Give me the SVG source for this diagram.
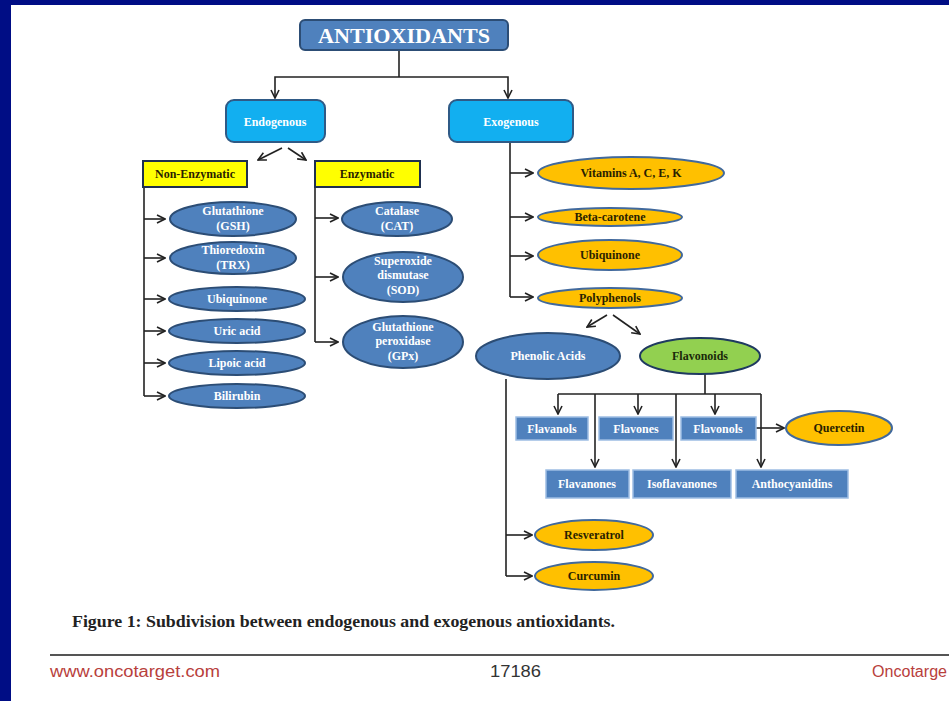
<svg xmlns="http://www.w3.org/2000/svg" width="949" height="701" viewBox="0 0 949 701">
<defs>
<marker id="a" viewBox="0 0 10 10" refX="9" refY="5" markerWidth="10" markerHeight="10" markerUnits="userSpaceOnUse" orient="auto">
<path d="M1,1 L9,5 L1,9" fill="none" stroke="#222" stroke-width="1.6"/>
</marker>
<style>
.t{font-family:"Liberation Serif","Times New Roman",serif;font-weight:bold;text-anchor:middle}
.w{fill:#ffffff;font-size:12px}
.d{fill:#2a1f00;font-size:12px}
.blue{fill:#4f81bd;stroke:#2c4d75;stroke-width:2}
.cyan{fill:#12aff0;stroke:#2f5a86;stroke-width:2}
.yel{fill:#ffff00;stroke:#1f3050;stroke-width:2}
.org{fill:#ffc000;stroke:#41699c;stroke-width:2}
.grn{fill:#92d050;stroke:#1f3a60;stroke-width:2}
.box{fill:#4f81bd;stroke:#9dbde3;stroke-width:1.5}
.c path{fill:none;stroke:#222;stroke-width:1.6}
.ar{marker-end:url(#a)}
</style>
</defs>
<rect x="0" y="0" width="949" height="701" fill="#ffffff"/>
<rect x="0" y="0" width="949" height="5" fill="#000d85"/>
<rect x="0" y="0" width="11" height="701" fill="#000d85"/>

<g class="c" id="connectors">
<path d="M399,50 V77"/>
<path class="ar" d="M399,77 H275 V98"/>
<path class="ar" d="M399,77 H508 V98"/>
<path class="ar" d="M282,148 L258,160"/>
<path class="ar" d="M288,148 L306,160"/>
<path d="M144,187 V396"/>
<path class="ar" d="M144,219 H165"/>
<path class="ar" d="M144,258 H165"/>
<path class="ar" d="M144,299 H165"/>
<path class="ar" d="M144,331 H165"/>
<path class="ar" d="M144,363 H165"/>
<path class="ar" d="M144,396 H165"/>
<path d="M315,187 V342"/>
<path class="ar" d="M315,218 H338"/>
<path class="ar" d="M315,277 H338"/>
<path class="ar" d="M315,342 H338"/>
<path d="M510,142 V297"/>
<path class="ar" d="M510,173 H533"/>
<path class="ar" d="M510,217 H533"/>
<path class="ar" d="M510,256 H533"/>
<path class="ar" d="M510,297 H533"/>
<path class="ar" d="M607,315 L587,327"/>
<path class="ar" d="M613,315 L640,334"/>
<path d="M506,379 V576"/>
<path class="ar" d="M506,535 H532"/>
<path class="ar" d="M506,576 H532"/>
<path d="M705,374 V394"/>
<path d="M558,394 H761"/>
<path class="ar" d="M558,394 V414"/>
<path class="ar" d="M638,394 V414"/>
<path class="ar" d="M715,394 V414"/>
<path class="ar" d="M595,394 V467"/>
<path class="ar" d="M676,394 V467"/>
<path class="ar" d="M761,394 V467"/>
<path class="ar" d="M756,428 H784"/>
</g>

<g id="antioxidants"><rect class="blue" x="300" y="20" width="208" height="30" rx="5"/><text class="t" x="404" y="43" fill="#ffffff" font-size="21" textLength="172" lengthAdjust="spacingAndGlyphs">ANTIOXIDANTS</text></g>
<g id="endogenous"><rect class="cyan" x="226" y="100" width="99" height="42" rx="8"/><text class="t w" x="275" y="126">Endogenous</text></g>
<g id="exogenous"><rect class="cyan" x="449" y="100" width="124" height="42" rx="8"/><text class="t w" x="511" y="126">Exogenous</text></g>

<g id="non-enzymatic"><rect class="yel" x="143" y="161" width="104" height="26"/><text class="t d" x="195" y="178">Non-Enzymatic</text></g>
<g id="enzymatic"><rect class="yel" x="315" y="161" width="105" height="26"/><text class="t d" x="367" y="178">Enzymatic</text></g>

<g id="glutathione"><ellipse class="blue" cx="233" cy="219" rx="63" ry="17"/><text class="t w" x="233" y="215">Glutathione</text><text class="t w" x="233" y="230">(GSH)</text></g>
<g id="thioredoxin"><ellipse class="blue" cx="233" cy="258" rx="63" ry="16"/><text class="t w" x="233" y="254">Thioredoxin</text><text class="t w" x="233" y="269">(TRX)</text></g>
<g id="ubiquinone-endo"><ellipse class="blue" cx="237" cy="299" rx="68" ry="12"/><text class="t w" x="237" y="303">Ubiquinone</text></g>
<g id="uric-acid"><ellipse class="blue" cx="237" cy="331" rx="68" ry="12"/><text class="t w" x="237" y="335">Uric acid</text></g>
<g id="lipoic-acid"><ellipse class="blue" cx="237" cy="363" rx="68" ry="12"/><text class="t w" x="237" y="367">Lipoic acid</text></g>
<g id="bilirubin"><ellipse class="blue" cx="237" cy="396" rx="68" ry="12"/><text class="t w" x="237" y="400">Bilirubin</text></g>

<g id="catalase"><ellipse class="blue" cx="397" cy="219" rx="55" ry="17"/><text class="t w" x="397" y="215">Catalase</text><text class="t w" x="397" y="230">(CAT)</text></g>
<g id="sod"><ellipse class="blue" cx="403" cy="277" rx="60" ry="25"/><text class="t w" x="403" y="265">Superoxide</text><text class="t w" x="403" y="279">dismutase</text><text class="t w" x="403" y="294">(SOD)</text></g>
<g id="gpx"><ellipse class="blue" cx="403" cy="342" rx="60" ry="26"/><text class="t w" x="403" y="331">Glutathione</text><text class="t w" x="403" y="345">peroxidase</text><text class="t w" x="403" y="360">(GPx)</text></g>

<g id="vitamins"><ellipse class="org" cx="631" cy="173" rx="93" ry="16"/><text class="t d" x="631" y="177">Vitamins A, C, E, K</text></g>
<g id="beta-carotene"><ellipse class="org" cx="610" cy="217" rx="72" ry="9"/><text class="t d" x="610" y="221">Beta-carotene</text></g>
<g id="ubiquinone-exo"><ellipse class="org" cx="610" cy="255" rx="72" ry="15"/><text class="t d" x="610" y="259">Ubiquinone</text></g>
<g id="polyphenols"><ellipse class="org" cx="610" cy="298" rx="72" ry="10"/><text class="t d" x="610" y="302">Polyphenols</text></g>

<g id="phenolic-acids"><ellipse class="blue" cx="548" cy="356" rx="72" ry="23" stroke="#1f3a60" stroke-width="2.5"/><text class="t w" x="548" y="360">Phenolic Acids</text></g>
<g id="flavonoids"><ellipse class="grn" cx="700" cy="356" rx="60" ry="18"/><text class="t" x="700" y="360" fill="#1a2a0a" font-size="12">Flavonoids</text></g>

<g id="flavanols"><rect class="box" x="516" y="417" width="72" height="23"/><text class="t w" x="552" y="433">Flavanols</text></g>
<g id="flavones"><rect class="box" x="599" y="417" width="74" height="23"/><text class="t w" x="636" y="433">Flavones</text></g>
<g id="flavonols"><rect class="box" x="681" y="417" width="75" height="23"/><text class="t w" x="718" y="433">Flavonols</text></g>
<g id="quercetin"><ellipse class="org" cx="839" cy="428" rx="53" ry="17" stroke="#1f3050"/><text class="t d" x="839" y="432">Quercetin</text></g>
<g id="flavanones"><rect class="box" x="546" y="470" width="83" height="28"/><text class="t w" x="587" y="488">Flavanones</text></g>
<g id="isoflavanones"><rect class="box" x="633" y="470" width="98" height="28"/><text class="t w" x="682" y="488">Isoflavanones</text></g>
<g id="anthocyanidins"><rect class="box" x="736" y="470" width="112" height="28"/><text class="t w" x="792" y="488">Anthocyanidins</text></g>

<g id="resveratrol"><ellipse class="org" cx="594" cy="535" rx="59" ry="15"/><text class="t d" x="594" y="539">Resveratrol</text></g>
<g id="curcumin"><ellipse class="org" cx="594" cy="576" rx="59" ry="14"/><text class="t d" x="594" y="580">Curcumin</text></g>

<text x="72" y="627" font-family="Liberation Serif,serif" font-weight="bold" font-size="17" fill="#222" textLength="543" lengthAdjust="spacingAndGlyphs">Figure 1: Subdivision between endogenous and exogenous antioxidants.</text>
<rect x="50" y="654" width="899" height="2" fill="#555"/>
<text x="50" y="677" font-family="Liberation Sans,Arial,sans-serif" font-size="16" fill="#b8403c" textLength="170" lengthAdjust="spacingAndGlyphs">www.oncotarget.com</text>
<text x="490" y="677" font-family="Liberation Sans,Arial,sans-serif" font-size="16" fill="#333" textLength="51" lengthAdjust="spacingAndGlyphs">17186</text>
<text x="872" y="677" font-family="Liberation Sans,Arial,sans-serif" font-size="16" fill="#b8403c" textLength="75" lengthAdjust="spacingAndGlyphs">Oncotarge</text>
</svg>
